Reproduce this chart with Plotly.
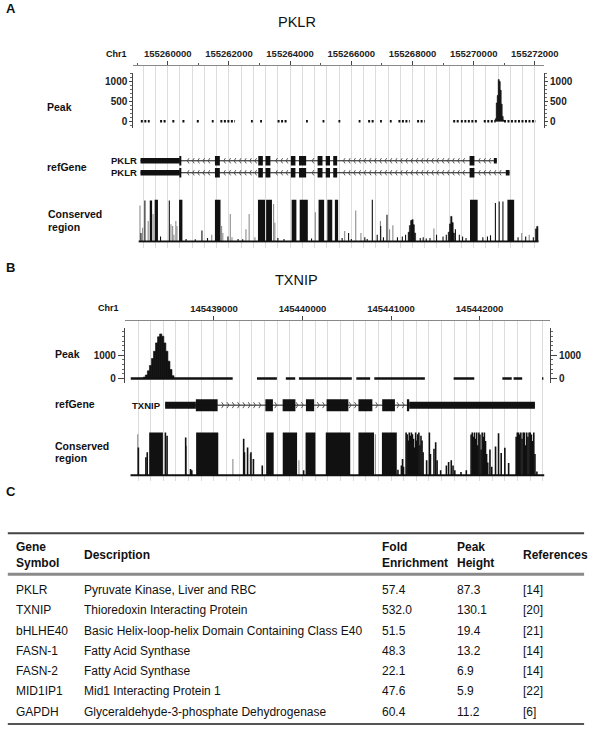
import plotly.graph_objects as go

W, H = 602, 736
FONT = "Liberation Sans, Arial, sans-serif"


def px(x):
    return x / W


def py(y):
    return 1 - y / H


# ======================= DATA: Panel A (PKLR) =======================
PKLR_BASE = 155260000
PKLR_RANGE = [155258875, 155272300]
PKLR_TICKS = [155260000, 155262000, 155264000, 155266000, 155268000, 155270000, 155272000]
PKLR_PEAK_TICKS = [0, 500, 1000]
# low-level signal segments on the baseline (bp offsets from base)
PKLR_SIG_START = [-880, -250, 150, 480, 950, 1440, 1720, 2720, 3020, 3590, 4520, 5060, 5580,
                  6240, 6550, 6940, 7260, 7540, 8150, 9330, 9580, 10330, 10990]
PKLR_SIG_END = [-590, -40, 260, 560, 1060, 1500, 2200, 2780, 3080, 3920, 4580, 5120, 5640,
                6300, 6740, 7000, 7320, 7910, 8400, 9530, 10110, 10720, 12030]
PKLR_PEAK_POS = [10723, 10755, 10787, 10819, 10851, 10883, 10915, 10947, 10979]
PKLR_PEAK_VAL = [60, 460, 650, 1050, 1000, 780, 430, 120, 30]
# transcripts
PKLR_TX_START = [-890, -890]
PKLR_TX_END = [10757, 11172]
PKLR_UTR_ROW = [0, 1, 0, 1]
PKLR_UTR_START = [-890, -890, 10659, 11050]
PKLR_UTR_END = [395, 395, 10757, 11172]
PKLR_EXON_START = [395, 1543, 2959, 3195, 4025, 4291, 4898, 5164, 5409, 9866]
PKLR_EXON_END = [425, 1703, 3109, 3355, 4173, 4524, 5058, 5304, 5537, 10024]
# conservation
PKLR_CONS_EXTENT = [-950, 12120]
PKLR_BLOCK_START = [-588, -428, 371, 1543, 2949, 3215, 4050, 4313, 4930, 5217, 5463, 9880, 11103]
PKLR_BLOCK_END = [-511, -320, 479, 1725, 3180, 3406, 4205, 4578, 5112, 5377, 5569, 10130, 11323]
PKLR_BLOCK_H = [0.98, 1, 1, 1, 1, 1, 1, 1, 1, 1, 1, 1, 1]
PKLR_HUMP_POS = [7880, 7920, 7960, 8000, 8040, 8080, 9190, 9230, 9270, 9310, 9350, 12040, 12080]
PKLR_HUMP_H = [0.22, 0.38, 0.5, 0.52, 0.4, 0.2, 0.22, 0.42, 0.6, 0.45, 0.2, 0.3, 0.36]
PKLR_SPIKE_POS = [-875, -747, -236, 51, 1118, 1968, 6687, 6960, 7166, 10710, 10834, 10956,
                  600, 900, 1300, 2300, 2450, 3600, 3800, 4700, 5700, 5911, 6000, 6442, 6520,
                  6847, 7050, 7508, 7668, 7774, 8253, 8350, 8450, 8572, 8786, 8998, 9105, 9403,
                  9531, 9637, 9750, 10300, 10450, 10550, 11450, 11700, 11950]
PKLR_SPIKE_H = [0.2, 0.98, 0.12, 0.98, 0.26, 0.12, 1.0, 0.37, 0.64, 0.92, 0.96, 0.96,
                0.06, 0.05, 0.08, 0.06, 0.05, 0.08, 0.06, 0.07, 0.08, 0.2, 0.06, 0.1, 0.06,
                0.16, 0.1, 0.1, 0.12, 0.16, 0.08, 0.1, 0.07, 0.08, 0.16, 0.12, 0.16, 0.29,
                0.16, 0.12, 0.08, 0.1, 0.12, 0.15, 0.1, 0.12, 0.1]
PKLR_GRAY_POS = [-907, -821, -639, -479, 105, 160, 200, 265, 300, 1438, 1760, 1800, 2044, 2100,
                 2556, 2661, 2850, 3460, 3500, 4824, 5783, 6144, 6314, 6952, 7250, 7358, 8700,
                 11569, 11815]
PKLR_GRAY_H = [0.86, 0.33, 0.49, 0.66, 0.41, 0.37, 0.16, 0.49, 0.37, 0.16, 0.37, 0.2, 0.66, 0.1,
               0.29, 0.66, 0.1, 0.9, 0.45, 0.7, 0.25, 0.74, 0.2, 0.49, 0.29, 0.39, 0.31,
               0.2, 0.16]

# ======================= DATA: Panel B (TXNIP) =======================
TXNIP_BASE = 145439000
TXNIP_RANGE = [145437995, 145442794]
TXNIP_TICKS = [145439000, 145440000, 145441000, 145442000]
TXNIP_PEAK_TICKS = [0, 1000]
TXNIP_SIG_START = [-939, 486, 812, 960, 1608, 1811, 2707, 3257, 3384, 3705]
TXNIP_SIG_END = [212, 711, 918, 1557, 1764, 2382, 2940, 3363, 3481, 3720]
TXNIP_PEAK_POS = [-785, -762, -739, -716, -693, -670, -647, -624, -601, -578, -555, -532, -509, -486, -463]
TXNIP_PEAK_VAL = [60, 150, 330, 560, 860, 1170, 1530, 1790, 1914, 1814, 1529, 1171, 743, 386, 120]
TXNIP_TX_START = [-551]
TXNIP_TX_END = [3625]
TXNIP_UTR_START = [-551, 2205]
TXNIP_UTR_END = [-204, 3625]
TXNIP_EXON_START = [-204, 581, 776, 1039, 1272, 1632, 1900, 2184]
TXNIP_EXON_END = [42, 666, 920, 1132, 1518, 1789, 2044, 2205]
TXNIP_CONS_EXTENT = [-942, 3730]
TXNIP_BLOCK_START = [-731, -201, 590, 777, 1035, 1263, 1632, 1897]
TXNIP_BLOCK_END = [-576, 49, 675, 939, 1146, 1539, 1808, 2065]
TXNIP_BLOCK_H = [1, 1, 1, 1, 1, 1, 1, 1]
TXNIP_SPIKE_POS = [-853, -768, -753, -548, -529, -319, -264, -250, 336, 345, 380, 418, 446, 546,
                   1013, 2078, 2117, 2130, 2141,
                   2170, 2182, 2194, 2206, 2218, 2230, 2242, 2254, 2266, 2278, 2290, 2302, 2314,
                   2326, 2338, 2350, 2362,
                   2402, 2433, 2445, 2485, 2504, 2520, 2560, 2625, 2650, 2680, 2700, 2720, 2790, 2850,
                   2904, 2917, 2929, 2942, 2954, 2967, 2979, 2992, 3004, 3017, 3029, 3042, 3054,
                   3067, 3079, 3092,
                   3117, 3137, 3180, 3214, 3244, 3285, 3328,
                   3413, 3426, 3440, 3453, 3466, 3479, 3493, 3506, 3519, 3532, 3546, 3559, 3572,
                   3585, 3599, 3612, 3625, 3647]
TXNIP_SPIKE_H = [0.65, 0.42, 0.54, 1.0, 0.92, 0.88, 0.15, 0.12, 0.85, 0.54, 0.65, 0.54, 0.38, 0.23,
                 0.12, 0.13, 0.23, 0.38, 0.2,
                 1.0, 0.96, 0.81, 1.0, 0.92, 1.0, 0.96, 0.85, 0.65, 1.0, 0.81, 0.96, 1.0,
                 0.7, 0.92, 0.81, 0.54,
                 0.35, 1.0, 0.5, 0.62, 0.77, 0.35, 0.12, 0.23, 0.31, 0.35, 0.23, 0.12, 0.08, 0.12,
                 0.95, 1.0, 0.9, 1.0, 0.85, 1.0, 0.7, 1.0, 0.95, 0.6, 1.0, 0.9, 1.0,
                 0.8, 0.5, 0.3,
                 0.6, 0.2, 0.67, 0.98, 0.52, 0.64, 0.29,
                 0.9, 1.0, 1.0, 0.95, 1.0, 0.85, 1.0, 1.0, 0.7, 1.0, 0.9, 1.0, 1.0,
                 0.95, 0.8, 1.0, 0.5, 0.09]
TXNIP_GRAY_POS = [-860, -310, 214, 410, 960, 1823]
TXNIP_GRAY_H = [0.96, 0.69, 0.38, 0.5, 0.35, 0.96]

# ======================= DATA: Panel C (table) =======================
TABLE_HEADERS = ["Gene<br>Symbol", "Description", "Fold<br>Enrichment", "Peak<br>Height", "References"]
TABLE_GENES = ["PKLR", "TXNIP", "bHLHE40", "FASN-1", "FASN-2", "MID1IP1", "GAPDH"]
TABLE_DESC = ["Pyruvate Kinase, Liver and RBC", "Thioredoxin Interacting Protein",
              "Basic Helix-loop-helix Domain Containing Class E40", "Fatty Acid Synthase",
              "Fatty Acid Synthase", "Mid1 Interacting Protein 1",
              "Glyceraldehyde-3-phosphate Dehydrogenase"]
TABLE_FOLD = [57.4, 532.0, 51.5, 48.3, 22.1, 47.6, 60.4]
TABLE_PEAK = [87.3, 130.1, 19.4, 13.2, 6.9, 5.9, 11.2]
TABLE_REFS = ["[14]", "[20]", "[21]", "[14]", "[14]", "[22]", "[6]"]

# ======================= BUILD =======================
fig = go.Figure()
layout = {}
annotations = []
shapes = []


def ann(x, y, text, size, bold=False, xanchor="left", color="#111"):
    annotations.append(dict(
        x=px(x), y=py(y), xref="paper", yref="paper", showarrow=False, align="left",
        text=f"<b>{text}</b>" if bold else text, xanchor=xanchor, yanchor="middle",
        font=dict(family=FONT, size=size, color=color)))


def segs(xs, ys):
    ox, oy = [], []
    for a, b in zip(xs, ys):
        ox += list(a) + [None]
        oy += list(b) + [None]
    return ox, oy


def panel(base, xr, ticks, minor_dtick, grid_dtick, n0, dom_x, bg_dom, peak_dom, peak_range,
          peak_ticks, peak_minor, peak_ticklen, sig_s, sig_e, sig_dot, peak_pos, peak_val, peak_w,
          gene_dom, gene_range, tx_s, tx_e, utr_rows, utr_s, utr_e, ex_s, ex_e, n_rows,
          ex_w, utr_w, chev_dir, chev_step, chev_d, chev_h,
          cons_dom, cons_range, cons_ext, bl_s, bl_e, bl_h, hump_pos, hump_h, hump_w,
          sp_pos, sp_h, gr_pos, gr_h, spike_w):
    xa = [f"x{n0 + i}" if n0 + i > 1 else "x" for i in range(6)]
    ya = [f"y{n0 + i}" if n0 + i > 1 else "y" for i in range(6)]
    key = lambda ax, i: (f"{ax}axis{n0 + i}" if n0 + i > 1 else f"{ax}axis")
    hidden = dict(visible=False, range=xr, domain=dom_x)
    # background grid subplot (i=0)
    layout[key("x", 0)] = dict(domain=dom_x, range=xr, showgrid=True, gridcolor="#dcdcdc",
                               gridwidth=1, tick0=base, dtick=grid_dtick, showticklabels=False,
                               ticks="", zeroline=False, showline=False, anchor=ya[0])
    layout[key("y", 0)] = dict(domain=bg_dom, range=[0, 1], visible=False, anchor=xa[0])
    fig.add_trace(go.Scatter(x=[xr[0]], y=[0], mode="markers", marker=dict(opacity=0),
                             hoverinfo="skip", showlegend=False, xaxis=xa[0], yaxis=ya[0]))
    # top genomic axis (i=1)
    top = dict(overlaying=xa[0], side="top", anchor=ya[0], range=xr, tickvals=ticks,
               tickformat="d", ticks="outside", ticklen=4, tickcolor="#444", showline=True,
               linecolor="#888", linewidth=1, showgrid=False, zeroline=False,
               tickfont=dict(family=FONT, size=9.5, color="#222", weight="bold"))
    if minor_dtick:
        top.pop("tickvals")
        top["tick0"] = base
        top["dtick"] = 2000
        top["minor"] = dict(dtick=minor_dtick, tick0=base, ticklen=2, ticks="outside",
                            tickcolor="#555", showgrid=False)
    layout[key("x", 1)] = top
    fig.add_trace(go.Scatter(x=[xr[0]], y=[0], mode="markers", marker=dict(opacity=0),
                             hoverinfo="skip", showlegend=False, xaxis=xa[1], yaxis=ya[0]))
    # peak track (i=2, right axis i=3)
    layout[key("x", 2)] = dict(hidden, anchor=ya[2])
    yk = dict(domain=peak_dom, range=peak_range, tickvals=peak_ticks, ticks="outside",
              ticklen=peak_ticklen, tickcolor="#444", showline=True, linecolor="#444",
              linewidth=1, showgrid=False, zeroline=False,
              minor=dict(dtick=peak_minor, ticklen=2, ticks="outside", tickcolor="#666"),
              tickfont=dict(family=FONT, size=10, color="#222", weight="bold"))
    layout[key("y", 2)] = dict(yk, anchor=xa[2], side="left")
    layout[key("y", 3)] = dict(yk, anchor=xa[2], side="right", overlaying=ya[2])
    fig.add_trace(go.Scatter(x=[xr[0]], y=[0], mode="markers", marker=dict(opacity=0),
                             hoverinfo="skip", showlegend=False, xaxis=xa[2], yaxis=ya[3]))
    sx, sy = segs([(base + s, base + e) for s, e in zip(sig_s, sig_e)],
                  [(0, 0)] * len(sig_s))
    fig.add_trace(go.Scatter(x=sx, y=sy, mode="lines", showlegend=False, hoverinfo="skip",
                             line=dict(color="#111", width=2.5,
                                       dash="2px,1.5px" if sig_dot else "solid"),
                             xaxis=xa[2], yaxis=ya[2]))
    fig.add_trace(go.Bar(x=[base + p for p in peak_pos], y=peak_val, width=peak_w,
                         marker=dict(color="#111", line=dict(width=0.6, color="#111")),
                         showlegend=False, hoverinfo="skip", xaxis=xa[2], yaxis=ya[2]))
    # gene track (i=4)
    layout[key("x", 4)] = dict(hidden, anchor=ya[4])
    layout[key("y", 4)] = dict(domain=gene_dom, range=gene_range, visible=False, anchor=xa[4])
    ix, iy = segs([(base + s, base + e) for s, e in zip(tx_s, tx_e)],
                  [(r, r) for r in range(len(tx_s))])
    fig.add_trace(go.Scatter(x=ix, y=iy, mode="lines", line=dict(color="#111", width=1),
                             showlegend=False, hoverinfo="skip", xaxis=xa[4], yaxis=ya[4]))
    # direction chevrons along introns (decoration)
    cx, cy = [], []
    for r in range(len(tx_s)):
        p = tx_s[r] + chev_step
        while p < tx_e[r] - chev_step * 0.5:
            inside = any(s - chev_d <= p <= e + chev_d for s, e in zip(ex_s, ex_e)) or \
                any(s - chev_d <= p <= e + chev_d for s, e, rr in zip(utr_s, utr_e, utr_rows) if rr == r)
            if not inside:
                cx += [base + p - chev_dir * chev_d, base + p, base + p - chev_dir * chev_d, None]
                cy += [r - chev_h, r, r + chev_h, None]
            p += chev_step
    fig.add_trace(go.Scatter(x=cx, y=cy, mode="lines", line=dict(color="#444", width=0.9),
                             showlegend=False, hoverinfo="skip", xaxis=xa[4], yaxis=ya[4]))
    fig.add_trace(go.Bar(orientation="h", y=utr_rows, base=[base + s for s in utr_s],
                         x=[e - s for s, e in zip(utr_s, utr_e)], width=utr_w,
                         marker=dict(color="#111", line=dict(width=0)), showlegend=False,
                         hoverinfo="skip", xaxis=xa[4], yaxis=ya[4]))
    er, es, el = [], [], []
    for r in range(n_rows):
        for s, e in zip(ex_s, ex_e):
            er.append(r)
            es.append(base + s)
            el.append(e - s)
    fig.add_trace(go.Bar(orientation="h", y=er, base=es, x=el, width=ex_w,
                         marker=dict(color="#111", line=dict(width=0)), showlegend=False,
                         hoverinfo="skip", xaxis=xa[4], yaxis=ya[4]))
    # conservation (i=5)
    layout[key("x", 5)] = dict(hidden, anchor=ya[5])
    layout[key("y", 5)] = dict(domain=cons_dom, range=cons_range, visible=False, anchor=xa[5])
    gx, gy = segs([(base + p, base + p) for p in gr_pos], [(0, h) for h in gr_h])
    fig.add_trace(go.Scatter(x=gx, y=gy, mode="lines", line=dict(color="#8c8c8c", width=1.1),
                             showlegend=False, hoverinfo="skip", xaxis=xa[5], yaxis=ya[5]))
    kx, ky = segs([(base + p, base + p) for p in sp_pos], [(0, h) for h in sp_h])
    fig.add_trace(go.Scatter(x=kx, y=ky, mode="lines", line=dict(color="#111", width=spike_w),
                             showlegend=False, hoverinfo="skip", xaxis=xa[5], yaxis=ya[5]))
    fig.add_trace(go.Bar(x=[base + (s + e) / 2 for s, e in zip(bl_s, bl_e)], y=bl_h,
                         width=[e - s for s, e in zip(bl_s, bl_e)],
                         marker=dict(color="#111", line=dict(width=0)), showlegend=False,
                         hoverinfo="skip", xaxis=xa[5], yaxis=ya[5]))
    fig.add_trace(go.Bar(x=[base + p for p in hump_pos], y=hump_h, width=hump_w,
                         marker=dict(color="#111", line=dict(width=0.6, color="#111")),
                         showlegend=False, hoverinfo="skip", xaxis=xa[5], yaxis=ya[5]))
    fig.add_trace(go.Scatter(x=[base + cons_ext[0], base + cons_ext[1]], y=[0, 0], mode="lines",
                             line=dict(color="#111", width=2), showlegend=False,
                             hoverinfo="skip", xaxis=xa[5], yaxis=ya[5]))


# ---- Panel A ----
panel(PKLR_BASE, PKLR_RANGE, PKLR_TICKS, 1000, 400, 1,
      [px(136.5), px(557)], [py(248), py(66)],
      [py(128), py(73)], [-169, 1220], PKLR_PEAK_TICKS, 100, 3,
      PKLR_SIG_START, PKLR_SIG_END, True, PKLR_PEAK_POS, PKLR_PEAK_VAL, 34,
      [py(182), py(152)], [1.75, -0.75], PKLR_TX_START, PKLR_TX_END,
      PKLR_UTR_ROW, PKLR_UTR_START, PKLR_UTR_END, PKLR_EXON_START, PKLR_EXON_END, 2,
      0.8, 0.45, -1, 170, 55, 0.22,
      [py(243), py(198)], [-0.031, 1.048], PKLR_CONS_EXTENT,
      PKLR_BLOCK_START, PKLR_BLOCK_END, PKLR_BLOCK_H, PKLR_HUMP_POS, PKLR_HUMP_H, 42,
      PKLR_SPIKE_POS, PKLR_SPIKE_H, PKLR_GRAY_POS, PKLR_GRAY_H, 1.1)

# ---- Panel B ----
panel(TXNIP_BASE, TXNIP_RANGE, TXNIP_TICKS, None, 1000 / 7, 7,
      [px(127.9), px(563)], [py(482), py(321.7)],
      [py(383.5), py(328)], [-193, 2189], TXNIP_PEAK_TICKS, 200, 6,
      TXNIP_SIG_START, TXNIP_SIG_END, False, TXNIP_PEAK_POS, TXNIP_PEAK_VAL, 25,
      [py(415.7), py(395.7)], [1, -1], TXNIP_TX_START, TXNIP_TX_END,
      [0, 0], TXNIP_UTR_START, TXNIP_UTR_END, TXNIP_EXON_START, TXNIP_EXON_END, 1,
      1.2, 0.7, 1, 60, 22, 0.3,
      [py(478), py(431)], [-0.047, 1.047], TXNIP_CONS_EXTENT,
      TXNIP_BLOCK_START, TXNIP_BLOCK_END, TXNIP_BLOCK_H, [], [], 20,
      TXNIP_SPIKE_POS, TXNIP_SPIKE_H, TXNIP_GRAY_POS, TXNIP_GRAY_H, 1.6)

# ---- Panel labels and track labels ----
ann(4, 9, "A", 13, bold=True)
ann(304, 22, "PKLR", 14.5, xanchor="center")
ann(119, 54, "Chr1", 9, bold=True, xanchor="center")
ann(46, 107, "Peak", 10.5, bold=True)
ann(46, 167, "refGene", 10.5, bold=True)
ann(47, 214, "Conserved", 10.5, bold=True)
ann(47, 227, "region", 10.5, bold=True)
for r, g in enumerate(["PKLR", "PKLR"]):
    ann(142, 161 + 12 * r, g, 9.5, bold=True, xanchor="right")

ann(4, 268, "B", 13, bold=True)
ann(304, 280, "TXNIP", 14.5, xanchor="center")
ann(111, 308, "Chr1", 9, bold=True, xanchor="center")
ann(54, 354, "Peak", 10.5, bold=True)
ann(54, 405, "refGene", 10.5, bold=True)
ann(54, 447, "Conserved", 10.5, bold=True)
ann(54, 459, "region", 10.5, bold=True)
ann(167, 405.7, "TXNIP", 9.5, bold=True, xanchor="right")

# ---- Panel C: table ----
ann(4, 492, "C", 13, bold=True)
COL_X = [14, 84, 389, 466, 533]
TFS = 12
for x, h in zip(COL_X, TABLE_HEADERS):
    ann(x, 556, h, TFS, bold=True)
for i in range(len(TABLE_GENES)):
    yy = 591 + 20.25 * i
    vals = [TABLE_GENES[i], TABLE_DESC[i], f"{TABLE_FOLD[i]:.1f}", f"{TABLE_PEAK[i]:.1f}", TABLE_REFS[i]]
    for x, v in zip(COL_X, vals):
        ann(x, yy, v, TFS)
for yline, w, c in [(534, 2, "#444"), (575, 3, "#8a8a8a"), (725, 2, "#555")]:
    shapes.append(dict(type="line", xref="paper", yref="paper", x0=px(8), x1=px(598),
                       y0=py(yline), y1=py(yline), line=dict(color=c, width=w)))

fig.update_layout(
    width=W, height=H, autosize=False,
    margin=dict(l=0, r=0, t=0, b=0),
    paper_bgcolor="white", plot_bgcolor="rgba(0,0,0,0)",
    barmode="overlay", showlegend=False,
    annotations=annotations, shapes=shapes,
    font=dict(family=FONT),
    **layout,
)
fig.write_html("out.html", config={"displayModeBar": False},
               post_script="document.body.style.margin='0';document.body.style.overflow='hidden';")
